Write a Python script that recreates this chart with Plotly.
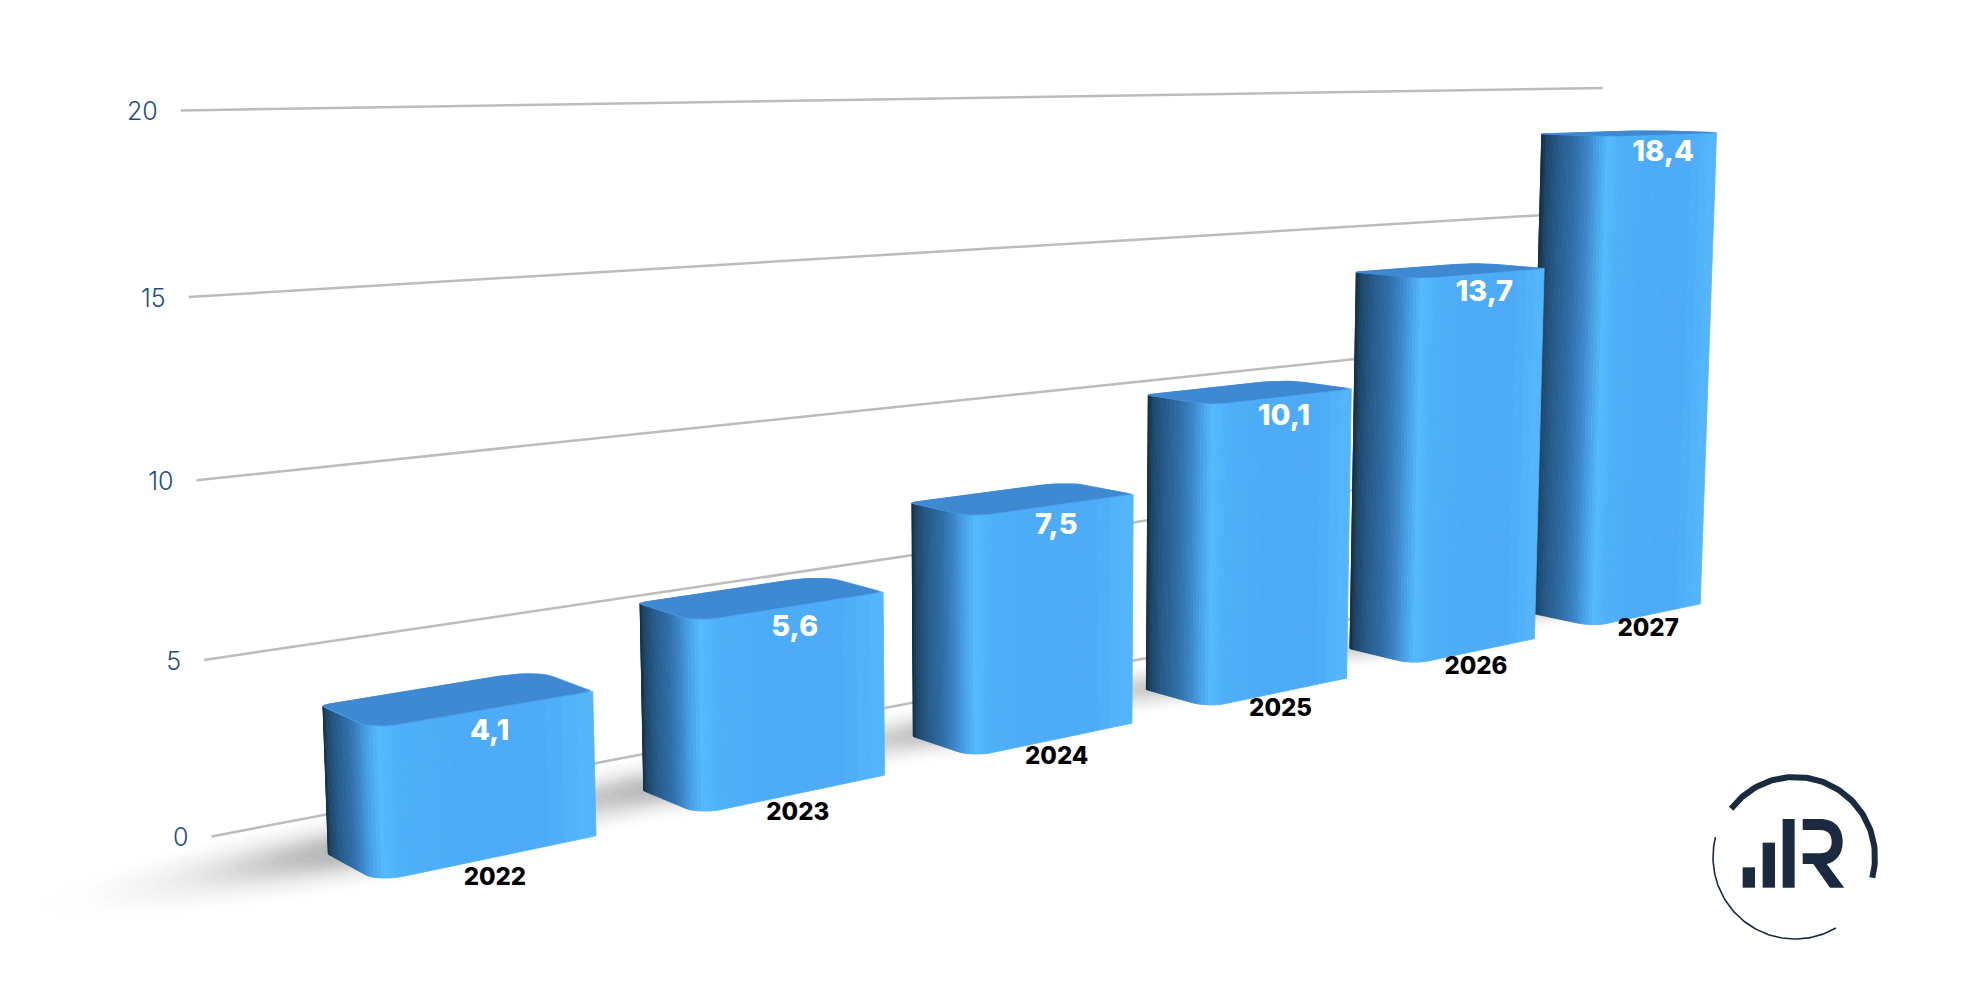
import numpy as np
import plotly.graph_objects as go

years = ["2022", "2023", "2024", "2025", "2026", "2027"]
values = [4.1, 5.6, 7.5, 10.1, 13.7, 18.4]
value_labels = ["4,1", "5,6", "7,5", "10,1", "13,7", "18,4"]
tick_values = [0, 5, 10, 15, 20]
tick_labels = ["0", "5", "10", "15", "20"]

W, H = 1979, 991
SC = W / 1560.0
BAR_W = 0.66
GRID_D, GRID_T0, GRID_T1 = 2.09, -0.19, 5.79


def proj(t, d, z):
    """Perspective view of the chart space: t along the row, d depth, z value."""
    t, d, z = np.asarray(t, float), np.asarray(d, float), np.asarray(z, float)
    w = 1 + 0.0876 * t + 0.0345 * d - 0.00192 * z
    u = (298 + 301.3 * t - 31.0 * d - 1.55 * z) / w
    v = (694 + 3.066 * t + 1.2 * d - 30.37 * z) / w
    return u * SC, v * SC


def hexrgb(c):
    return np.array([int(c[i:i + 2], 16) for i in (1, 3, 5)], float)


def ramp(stops, f):
    xs = [s[0] for s in stops]
    cs = np.array([hexrgb(s[1]) for s in stops])
    rgb = [np.interp(f, xs, cs[:, k]) for k in range(3)]
    return "rgb(%d,%d,%d)" % tuple(int(round(c)) for c in rgb)


SIDE = [(0, "#153048"), (0.1, "#1d4668"), (0.35, "#265a8a"), (0.7, "#2f6ea8"), (1, "#3d88ce")]
CORNER = [(0, "#3d88ce"), (0.6, "#53bafc"), (1, "#4fb1f9")]
FRONT = [(0, "#4fb1f9"), (0.3, "#4dacf7"), (0.75, "#4dabf7"), (1, "#54b5fb")]

fig = go.Figure()


def poly(xs, ys, color, line=True):
    fig.add_trace(go.Scatter(
        x=xs, y=ys, mode="lines", fill="toself", fillcolor=color,
        line=dict(color=color, width=0.8 if line else 0),
        hoverinfo="skip", showlegend=False))


# soft ground shadow: one blurred blob under each bar, smooth radial falloff
ang = np.linspace(0, 2 * np.pi, 70)
grid_r = np.linspace(0, 1, 101)
smooth = grid_r * grid_r * (3 - 2 * grid_r)
N_LEVELS = 24
ks = 1 - np.interp((np.arange(N_LEVELS) + 0.5) / N_LEVELS, smooth, grid_r)
fade = 0.18 + 1.25 * np.arange(N_LEVELS) / (N_LEVELS - 1)
for i in range(len(values)):
    reach = 1.08 if i == 0 else 0.92 - 0.02 * i
    for k, g in zip(ks, fade):
        st = i + 0.2 + reach * k * np.cos(ang)
        sd = 0.95 + (1.3 - 0.06 * i) * k * np.sin(ang)
        x, y = proj(st, sd, 0 * st)
        poly(x, y, "rgba(50,50,50,%.4f)" % (g * (0.024 - 0.0022 * i)), line=False)

# grid lines and tick labels
for val, lab in zip(tick_values, tick_labels):
    x, y = proj([GRID_T0, GRID_T1], [GRID_D, GRID_D], [val, val])
    fig.add_trace(go.Scatter(x=x, y=y, mode="lines", line=dict(color="#bcbcbc", width=2.5),
                             hoverinfo="skip", showlegend=False))
    fig.add_trace(go.Scatter(x=[x[0] - 23], y=[y[0] + 3.5], mode="text", text=[lab],
                             textposition="middle left",
                             textfont=dict(family="Inter", size=25, color="#1f4f80", weight=300),
                             hoverinfo="skip", showlegend=False))


def footprint(t0, t1, d0, d1, rt, rd, n=10):
    """Closed rounded outline of a bar's base, counter-clockwise from the back left."""
    pts = []
    corners = [(t0 + 0.02, d1 - 0.07, 0.02, 0.07, np.pi / 2, np.pi),
               (t0 + rt, d0 + rd, rt, rd, np.pi, 1.5 * np.pi),
               (t1 - 0.02, d0 + 0.04, 0.02, 0.04, 1.5 * np.pi, 2 * np.pi),
               (t1 - 0.12, d1 - 0.3, 0.12, 0.3, 0, np.pi / 2)]
    for ct, cd, a, b, s, e in corners:
        for th in np.linspace(s, e, n):
            pts.append((ct + a * np.cos(th), cd + b * np.sin(th)))
    return np.array(pts)


# bars, far to near
for i in range(len(values) - 1, -1, -1):
    v = values[i]
    t0, t1 = i - 0.005, i - 0.005 + BAR_W
    d0, d1 = -0.03, 1.0
    rt, rd = 0.075, 0.24
    path = []  # (t, d, colour)
    for th in np.linspace(np.pi / 2 + 0.5, np.pi, 4):
        path.append((t0 + 0.02 + 0.02 * np.cos(th), d1 - 0.07 + 0.07 * np.sin(th), SIDE[0][1]))
    for f in np.linspace(0, 1, 22)[1:]:
        path.append((t0, (d1 - 0.07) + f * ((d0 + rd) - (d1 - 0.07)), ramp(SIDE, f)))
    for f in np.linspace(0, 1, 11)[1:]:
        th = np.pi + f * np.pi / 2
        path.append((t0 + rt + rt * np.cos(th), d0 + rd + rd * np.sin(th), ramp(CORNER, f)))
    for f in np.linspace(0, 1, 13)[1:]:
        path.append((t0 + rt + f * (t1 - t0 - rt), d0, ramp(FRONT, f)))
    for a, b in zip(path[:-1], path[1:]):
        xt = [a[0], b[0], b[0], a[0], a[0]]
        xd = [a[1], b[1], b[1], a[1], a[1]]
        xz = [0, 0, v, v, 0]
        x, y = proj(xt, xd, xz)
        poly(x, y, b[2])
    fp = footprint(t0, t1, d0, d1, rt, rd)
    x, y = proj(fp[:, 0], fp[:, 1], v + 0 * fp[:, 0])
    poly(np.r_[x, x[0]], np.r_[y, y[0]], "#4a9eec")
    cx, cd = (t0 + t1) / 2, (d0 + d1) / 2
    x, y = proj(cx + (fp[:, 0] - cx) * 0.985, cd + (fp[:, 1] - cd) * 0.96 + 0.02, v + 0 * fp[:, 0])
    poly(np.r_[x, x[0]], np.r_[y, y[0]], "#3f88d2")

# year labels and value labels
idx = np.arange(len(values))
x, y = proj(idx + 0.343, 0 * idx, -0.65 + 0 * idx)
fig.add_trace(go.Scatter(x=x, y=y, mode="text", text=years, textposition="middle center",
                         textfont=dict(family="Inter", size=24, color="#000000", weight=800),
                         hoverinfo="skip", showlegend=False))
x, y = proj(idx + 0.34, 0 * idx, np.array(values) - 0.48)
fig.add_trace(go.Scatter(x=x, y=y + 7, mode="text", text=value_labels, textposition="middle center",
                         textfont=dict(family="Inter", size=29, color="#ffffff", weight=800),
                         hoverinfo="skip", showlegend=False))

# logo
LOGO = "#1b2a3f"
LX, LY = 1795, 857


def zx(a):
    return 1650 + a / 3


def zy(a):
    return 740 + a / 3


th = np.radians(np.linspace(-143, 15, 90))
fig.add_trace(go.Scatter(x=LX + 80 * np.cos(th), y=LY + 80 * np.sin(th), mode="lines",
                         line=dict(color=LOGO, width=6), hoverinfo="skip", showlegend=False))
th = np.radians(np.linspace(60, 194, 80))
fig.add_trace(go.Scatter(x=LX + 82 * np.cos(th), y=LY + 82 * np.sin(th), mode="lines",
                         line=dict(color=LOGO, width=1.6), hoverinfo="skip", showlegend=False))
shapes = []
for a, b, top in [(278, 315, 382), (338, 375, 308), (398, 434, 237)]:
    shapes.append(dict(type="rect", xref="x", yref="y", x0=zx(a), x1=zx(b), y0=zy(top), y1=zy(443),
                       fillcolor=LOGO, line=dict(width=0), layer="above"))
rp = [("M", 458, 237), ("L", 510, 237), ("C", 555, 237, 578, 265, 578, 305),
      ("C", 578, 342, 558, 366, 530, 372), ("L", 583, 443), ("L", 540, 443), ("L", 490, 372),
      ("L", 458, 372), ("L", 458, 340), ("L", 510, 340), ("C", 535, 340, 545, 325, 545, 305),
      ("C", 545, 285, 535, 270, 510, 270), ("L", 458, 270)]
d = ""
for seg in rp:
    nums = seg[1:]
    d += seg[0] + " ".join("%.1f,%.1f" % (zx(nums[j]), zy(nums[j + 1])) for j in range(0, len(nums), 2)) + " "
shapes.append(dict(type="path", xref="x", yref="y", path=d + "Z", fillcolor=LOGO, line=dict(width=0), layer="above"))

fig.update_layout(
    width=W, height=H, margin=dict(l=0, r=0, t=0, b=0),
    paper_bgcolor="white", plot_bgcolor="white", showlegend=False, shapes=shapes,
    xaxis=dict(range=[0, W], visible=False, fixedrange=True),
    yaxis=dict(range=[H, 0], visible=False, fixedrange=True),
)
fig.write_html("out.html", config=dict(displayModeBar=False),
               post_script="document.body.style.margin='0';document.documentElement.style.overflow='hidden';")
